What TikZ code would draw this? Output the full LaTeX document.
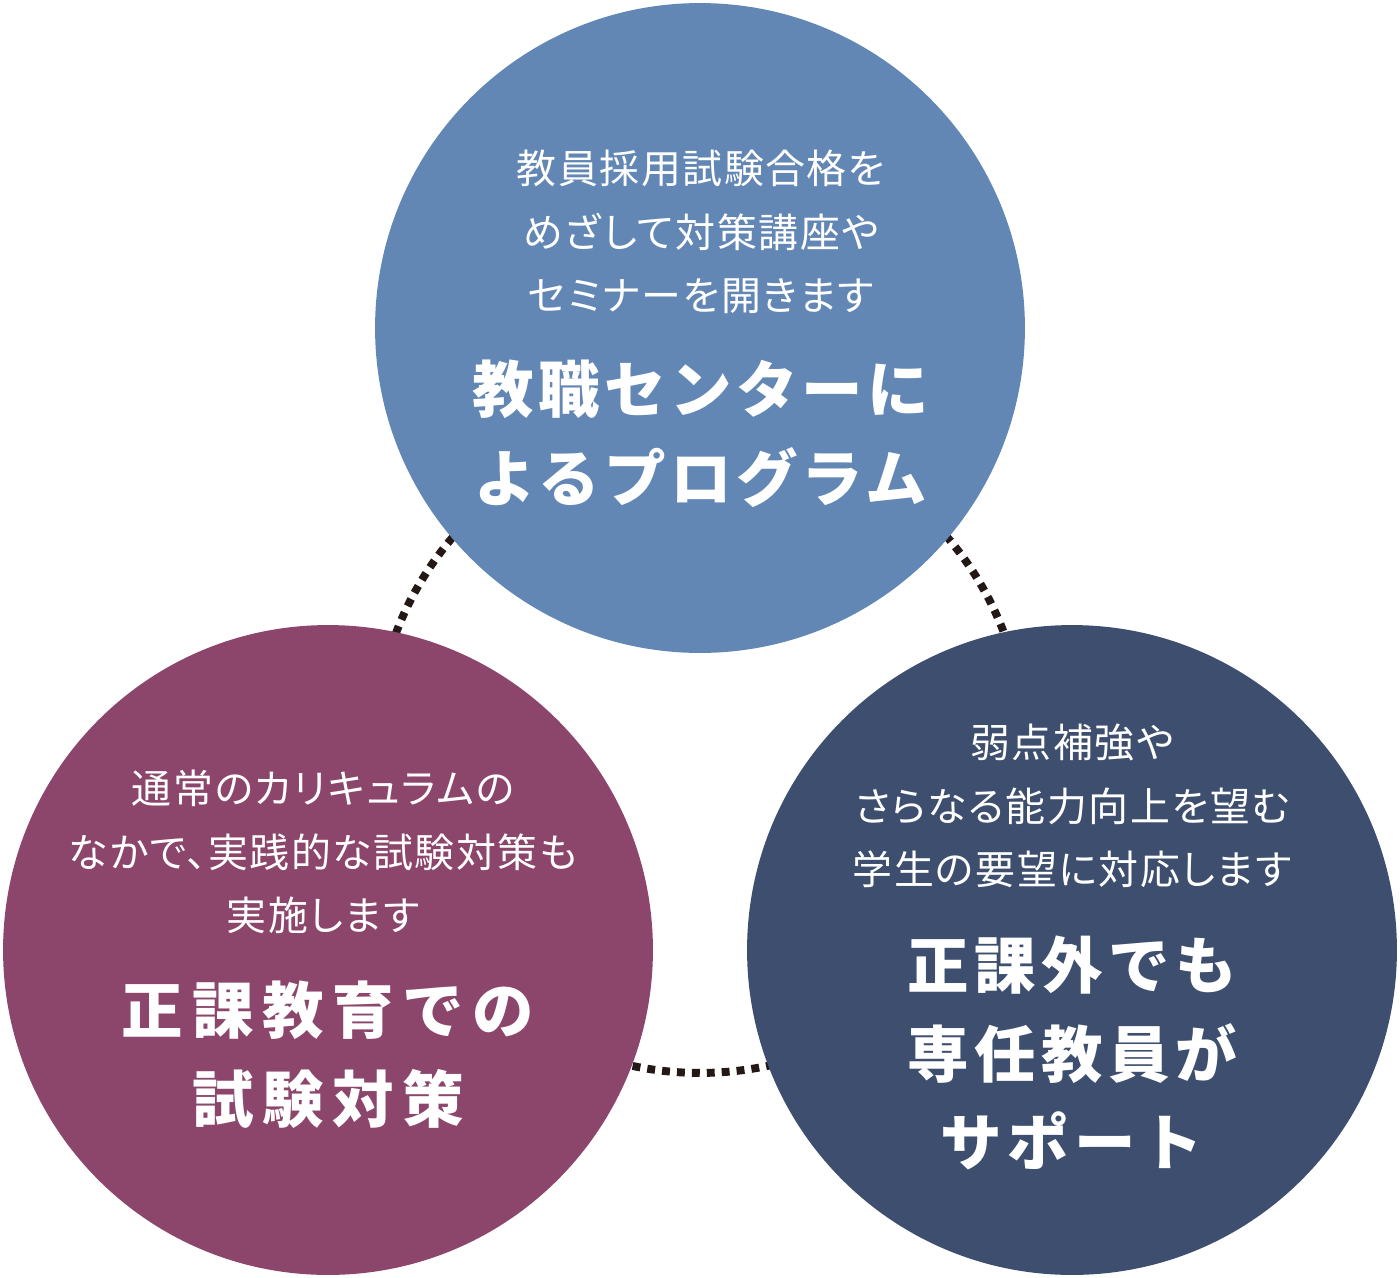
\documentclass[tikz,border=0pt]{standalone}
\usepackage{fontspec}
\newfontfamily\jpfont{Noto Sans CJK JP}[LetterSpace=4,RawFeature=+palt]
\newfontfamily\jpheavy{Noto Sans CJK JP}
\usetikzlibrary{positioning}
\definecolor{progblue}{RGB}{98,135,181}
\definecolor{seikaplum}{RGB}{140,69,107}
\definecolor{kagainavy}{RGB}{61,78,110}
\definecolor{dotink}{RGB}{35,24,21}

\begin{document}
\begin{tikzpicture}[
  x=0.02cm, y=-0.02cm,
  ring/.style={circle, minimum size=13cm, inner sep=0pt},
  link/.style={draw=dotink, line width=4.5pt, dash pattern=on 4.5pt off 4pt},
  note/.style={text=white, align=center, inner sep=0pt,
    font=\jpfont\fontsize{22.7pt}{36.3pt}\selectfont},
  headline/.style={text=white, align=center, inner sep=0pt,
    font=\jpheavy\fontsize{35pt}{50.5pt}\bfseries\addfontfeatures{LetterSpace=#1}},
  headline/.default=10
]
\useasboundingbox (0,0) rectangle (1400,1278);

% dotted ring behind the three circles
\coordinate (hub) at (700,748);
\draw[link] (hub) circle[radius=6.5cm];

% === Circles ===
\node[ring, fill=progblue]  (prog)  at (700,328) {};
\node[ring, fill=seikaplum] (seika) at (328,950) {};
\node[ring, fill=kagainavy] (kagai) at (1072,950) {};

% === Top: program of the teaching center ===
\node[note] (prog-note) at (701,232) {教員採用試験合格を\\めざして対策講座や\\セミナーを開きます};
\node[headline=7] (prog-head) at (701,434) {教職センターに\\よるプログラム};

% === Left: exam prep in regular courses ===
\node[note] (seika-note) at (323,852) {通常のカリキュラムの\\なかで、実践的な試験対策も\\実施します};
\node[headline=14] (seika-head) at (328,1055) {正課教育での\\試験対策};

% === Right: support outside the curriculum ===
\node[note] (kagai-note) at (1072,806) {弱点補強や\\さらなる能力向上を望む\\学生の要望に対応します};
\node[headline=9] (kagai-head) at (1072,1053) {正課外でも\\専任教員が\\サポート};

\end{tikzpicture}
\end{document}
